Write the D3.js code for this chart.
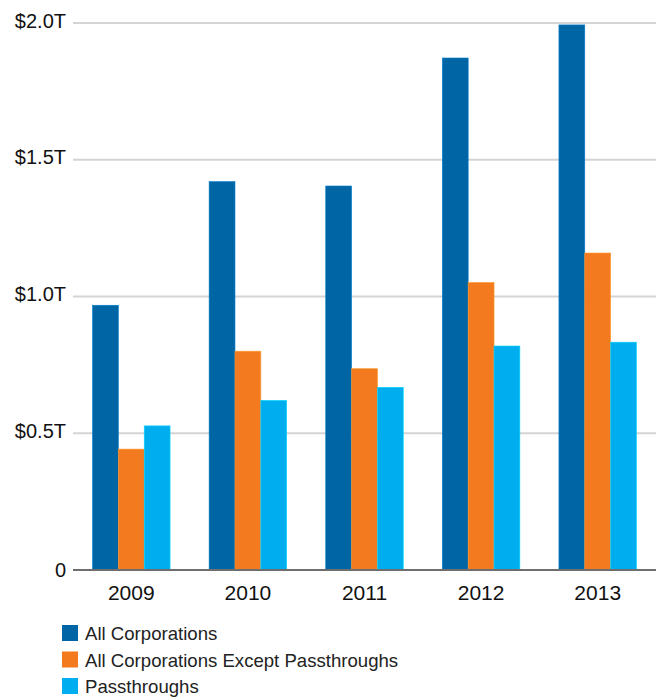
<!DOCTYPE html>
<html>
<head>
<meta charset="utf-8">
<script src="https://cdn.jsdelivr.net/npm/d3@7"></script>
<style>
  body { margin: 0; background: #fff; }
  text { font-family: "Liberation Sans", Arial, sans-serif; }
</style>
</head>
<body>
<div id="chart"></div>
<script>
// values in trillions of dollars
const years = ['2009', '2010', '2011', '2012', '2013'];
const seriesNames = ['All Corporations', 'All Corporations Except Passthroughs', 'Passthroughs'];
const allCorps = [0.968, 1.42, 1.404, 1.872, 1.993];
const exceptPass = [0.442, 0.80, 0.736, 1.051, 1.159];
const passthroughs = [0.527, 0.62, 0.668, 0.819, 0.833];
const yTicks = [0, 0.5, 1.0, 1.5, 2.0];
const yTickLabels = ['0', '$0.5T', '$1.0T', '$1.5T', '$2.0T'];
const colors = ['#0065a4', '#f47a20', '#00aeef'];

const seriesValues = [allCorps, exceptPass, passthroughs];

function drawChart(selection) {
  const margin = {top: 23, right: 2, bottom: 127, left: 73};
  const w = 658 - margin.left - margin.right;
  const h = 697 - margin.top - margin.bottom;

  let svg = d3.select(selection)
    .append('svg')
      .attr('width', w + margin.left + margin.right)
      .attr('height', h + margin.top + margin.bottom);

  let appendGroupTo = (name, appendTo) => {
    return appendTo.append('g').attr('id', name);
  };

  let chart = appendGroupTo('chartCont', svg)
    .attr('transform', `translate(${margin.left}, ${margin.top})`);

  let xScale = d3.scaleBand()
    .domain(years)
    .range([0, w])
    .paddingInner(0.335)
    .paddingOuter(0.1675);

  let subScale = d3.scaleBand()
    .domain(d3.range(seriesNames.length))
    .range([0, xScale.bandwidth()]);

  let yScale = d3.scaleLinear()
    .domain([0, 2.0])
    .range([h, 0]);

  // gridlines
  let grid = appendGroupTo('grid', chart);
  grid.selectAll('line')
    .data(yTicks.filter(d => d > 0))
    .enter()
    .append('line')
      .attr('x1', 0)
      .attr('x2', w)
      .attr('y1', d => yScale(d))
      .attr('y2', d => yScale(d))
      .attr('stroke', '#d4d4d4')
      .attr('stroke-width', 2);

  // y axis labels
  let yAxis = d3.axisLeft(yScale)
    .tickValues(yTicks)
    .tickSize(0)
    .tickPadding(7)
    .tickFormat((d, i) => yTickLabels[i]);
  let yAxisCont = appendGroupTo('yAxisCont', chart).call(yAxis);
  yAxisCont.select('.domain').remove();
  yAxisCont.selectAll('text')
    .style('font-size', '20px')
    .attr('fill', '#111')
    .attr('dy', (d) => d === 0 ? '0.32em' : '0.2em');

  // bars
  let dataCont = appendGroupTo('dataCont', chart);
  seriesValues.forEach((vals, s) => {
    dataCont.append('g')
      .attr('class', 'series')
      .selectAll('rect')
      .data(vals)
      .enter()
      .append('rect')
        .attr('x', (d, i) => xScale(years[i]) + subScale(s))
        .attr('y', d => yScale(d))
        .attr('width', subScale.bandwidth())
        .attr('height', d => h - yScale(d))
        .attr('fill', colors[s])
        .attr('stroke', d3.color(colors[s]).brighter(0.6))
        .attr('stroke-width', 0.6);
  });

  // x axis
  let xAxis = d3.axisBottom(xScale).tickSize(0).tickPadding(15);
  let xAxisCont = appendGroupTo('xAxisCont', chart)
    .attr('transform', `translate(0, ${h})`)
    .call(xAxis);
  xAxisCont.select('.domain').remove();
  xAxisCont.selectAll('text')
    .style('font-size', '21px')
    .attr('fill', '#111');
  xAxisCont.append('line')
    .attr('x1', 0)
    .attr('x2', w)
    .attr('stroke', '#6e6e6e')
    .attr('stroke-width', 2);

  // legend
  let legend = appendGroupTo('legend', svg)
    .attr('transform', 'translate(62, 625)');
  let item = legend.selectAll('g')
    .data(seriesNames)
    .enter()
    .append('g')
      .attr('transform', (d, i) => `translate(0, ${i * 26.5})`);
  item.append('rect')
    .attr('width', 16)
    .attr('height', 16)
    .attr('fill', (d, i) => colors[i]);
  item.append('text')
    .attr('x', 23)
    .attr('y', 15)
    .style('font-size', '18.6px')
    .attr('fill', '#222')
    .text(d => d);
}

drawChart('#chart');
</script>
</body>
</html>
